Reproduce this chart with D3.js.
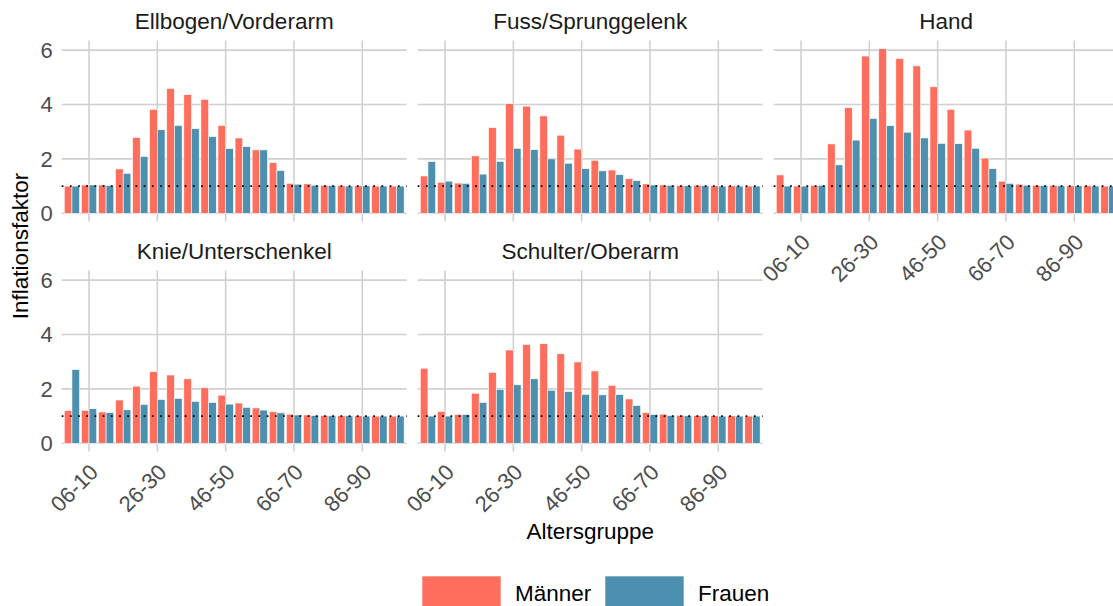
<!DOCTYPE html>
<html lang="de">
<head>
<meta charset="UTF-8">
<title>Inflationsfaktor nach Altersgruppe</title>
<script src="https://d3js.org/d3.v7.min.js"></script>
<style>
    body { margin: 0; background: #fff; }
    text { font-family: "Liberation Sans", Arial, sans-serif; }
    .strip { font-size: 22.5px; fill: #1a1a1a; }
    .tick-label { font-size: 22px; fill: #4d4d4d; }
    .axis-title { font-size: 22.5px; fill: #000; }
    .legend-label { font-size: 22.5px; fill: #000; }
</style>
</head>
<body>
<script>
// age groups (x categories)
var ages = ["01-05", "06-10", "11-15", "16-20", "21-25", "26-30", "31-35", "36-40", "41-45", "46-50",
            "51-55", "56-60", "61-65", "66-70", "71-75", "76-80", "81-85", "86-90", "91-95", "96-100"];
var shownTicks = ["06-10", "26-30", "46-50", "66-70", "86-90"];
var yTicks = [0, 2, 4, 6];

var regions = ["Ellbogen/Vorderarm", "Fuss/Sprunggelenk", "Hand", "Knie/Unterschenkel", "Schulter/Oberarm"];
var sexes = ["Männer", "Frauen"];

// values
var ellbogenM = [1.00, 1.04, 1.04, 1.63, 2.79, 3.82, 4.59, 4.36, 4.19, 3.23, 2.77, 2.33, 1.86, 1.10, 1.08, 1.03, 1.01, 1.01, 1.00, 1.00];
var ellbogenF = [1.00, 1.04, 1.02, 1.47, 2.09, 3.07, 3.23, 3.11, 2.82, 2.38, 2.45, 2.33, 1.57, 1.07, 1.03, 1.02, 1.00, 1.01, 1.00, 1.00];
var fussM     = [1.37, 1.14, 1.11, 2.11, 3.15, 4.03, 3.94, 3.58, 2.87, 2.36, 1.95, 1.59, 1.27, 1.08, 1.04, 1.02, 1.02, 1.01, 1.01, 1.00];
var fussF     = [1.90, 1.18, 1.10, 1.44, 1.91, 2.39, 2.34, 2.00, 1.84, 1.64, 1.56, 1.42, 1.20, 1.04, 1.03, 1.01, 1.01, 1.00, 1.00, 1.00];
var handM     = [1.41, 1.00, 1.03, 2.55, 3.88, 5.78, 6.05, 5.69, 5.42, 4.65, 3.82, 3.06, 2.03, 1.18, 1.07, 1.03, 1.02, 1.01, 1.01, 1.00];
var handF     = [1.00, 1.00, 1.03, 1.78, 2.69, 3.49, 3.22, 2.98, 2.77, 2.57, 2.56, 2.39, 1.64, 1.10, 1.03, 1.02, 1.01, 1.01, 1.00, 1.00];
var knieM     = [1.20, 1.21, 1.15, 1.59, 2.10, 2.63, 2.51, 2.37, 2.04, 1.77, 1.48, 1.30, 1.16, 1.07, 1.04, 1.02, 1.01, 1.01, 1.00, 1.00];
var knieF     = [2.71, 1.27, 1.13, 1.23, 1.43, 1.61, 1.65, 1.54, 1.50, 1.44, 1.32, 1.22, 1.12, 1.04, 1.02, 1.01, 1.01, 1.00, 1.00, 1.00];
var schulterM = [2.76, 1.17, 1.06, 1.84, 2.61, 3.43, 3.63, 3.66, 3.29, 2.99, 2.66, 2.13, 1.63, 1.13, 1.07, 1.03, 1.02, 1.01, 1.01, 1.00];
var schulterF = [1.00, 1.00, 1.06, 1.50, 1.98, 2.15, 2.37, 1.95, 1.90, 1.80, 1.78, 1.79, 1.39, 1.06, 1.02, 1.01, 1.01, 1.00, 1.00, 1.00];

var colors = { "Männer": "#ff6e5d", "Frauen": "#4d8fae" };

var panels = [
    { name: regions[0], m: ellbogenM, f: ellbogenF },
    { name: regions[1], m: fussM, f: fussF },
    { name: regions[2], m: handM, f: handF },
    { name: regions[3], m: knieM, f: knieF },
    { name: regions[4], m: schulterM, f: schulterF }
];

var width = 1113, height = 606;
var colLeft = [61.7, 417.7, 773.7], panelW = 345;
var rowTop = [40.5, 270.5], panelH = 181;

var svg = d3.select("body").append("svg")
    .attr("width", width)
    .attr("height", height);

// shared y scale (ggplot style 5% expansion)
var yMax = d3.max(panels, p => d3.max(p.m.concat(p.f)));

panels.forEach(function (p, i) {
    var col = i % 3, row = Math.floor(i / 3);
    var left = colLeft[col], top = rowTop[row];

    var g = svg.append("g").attr("transform", "translate(" + left + "," + top + ")");

    var x = d3.scaleBand().domain(ages).range([0, panelW]).paddingInner(0).paddingOuter(0.1);
    var y = d3.scaleLinear().domain([-0.05 * yMax, 1.05 * yMax]).range([panelH, 0]);
    var x1 = d3.scaleBand().domain(sexes).range([0, x.bandwidth() * 0.9]);

    // grid
    g.selectAll(".hgrid").data(yTicks).join("line")
        .attr("x1", 0).attr("x2", panelW)
        .attr("y1", d => y(d)).attr("y2", d => y(d))
        .attr("stroke", "#d0d0d0").attr("stroke-width", 1.6);
    g.selectAll(".vgrid").data(shownTicks).join("line")
        .attr("x1", d => x(d) + x.bandwidth() / 2).attr("x2", d => x(d) + x.bandwidth() / 2)
        .attr("y1", 0).attr("y2", panelH)
        .attr("stroke", "#d0d0d0").attr("stroke-width", 1.6);

    // bars
    var rows = ages.map((a, k) => ({ age: a, values: [
        { sex: "Männer", v: p.m[k] }, { sex: "Frauen", v: p.f[k] }] }));

    g.selectAll(".grp").data(rows).join("g")
        .attr("transform", d => "translate(" + (x(d.age) + x.bandwidth() * 0.05) + ",0)")
        .selectAll("rect").data(d => d.values).join("rect")
        .attr("x", d => x1(d.sex))
        .attr("width", x1.bandwidth())
        .attr("y", d => y(d.v))
        .attr("height", d => y(0) - y(d.v))
        .attr("fill", d => colors[d.sex])
        .attr("stroke", "#fff")
        .attr("stroke-width", 0.6);

    // reference line at 1
    g.append("line")
        .attr("x1", 0).attr("x2", panelW)
        .attr("y1", y(1)).attr("y2", y(1))
        .attr("stroke", "#000").attr("stroke-width", 1.7)
        .attr("stroke-dasharray", "1.7,6.5");

    // strip title
    g.append("text")
        .attr("class", "strip")
        .attr("x", panelW / 2)
        .attr("y", -11.3)
        .attr("text-anchor", "middle")
        .text(p.name);

    // y tick labels on first column
    if (col === 0) {
        g.selectAll(".ylab").data(yTicks).join("text")
            .attr("class", "tick-label")
            .attr("x", -9)
            .attr("y", d => y(d))
            .attr("dy", "0.36em")
            .attr("text-anchor", "end")
            .text(d => d);
    }

    // x tick labels where no panel sits below
    if (row === 1 || i + 3 >= panels.length) {
        g.selectAll(".xlab").data(shownTicks).join("text")
            .attr("class", "tick-label")
            .attr("text-anchor", "end")
            .attr("transform", d => "translate(" + (x(d) + x.bandwidth() / 2 + 10.5) + "," + (panelH + 22) + ") rotate(-45)")
            .text(d => d);
    }
});

// axis titles
svg.append("text")
    .attr("class", "axis-title")
    .attr("x", (colLeft[0] + colLeft[2] + panelW) / 2)
    .attr("y", 539)
    .attr("text-anchor", "middle")
    .text("Altersgruppe");

svg.append("text")
    .attr("class", "axis-title")
    .attr("transform", "translate(28," + (rowTop[0] + (rowTop[1] + panelH - rowTop[0]) / 2) + ") rotate(-90)")
    .attr("text-anchor", "middle")
    .text("Inflationsfaktor");

// legend
var legendX = [422, 605];
var legend = svg.selectAll(".legend").data(sexes).join("g")
    .attr("transform", (d, k) => "translate(" + legendX[k] + ",576)");
legend.append("rect")
    .attr("width", 79).attr("height", 34)
    .attr("fill", d => colors[d])
    .attr("stroke", "#fff").attr("stroke-width", 0.6);
legend.append("text")
    .attr("class", "legend-label")
    .attr("x", 93)
    .attr("y", 25)
    .text(d => d);
</script>
</body>
</html>
